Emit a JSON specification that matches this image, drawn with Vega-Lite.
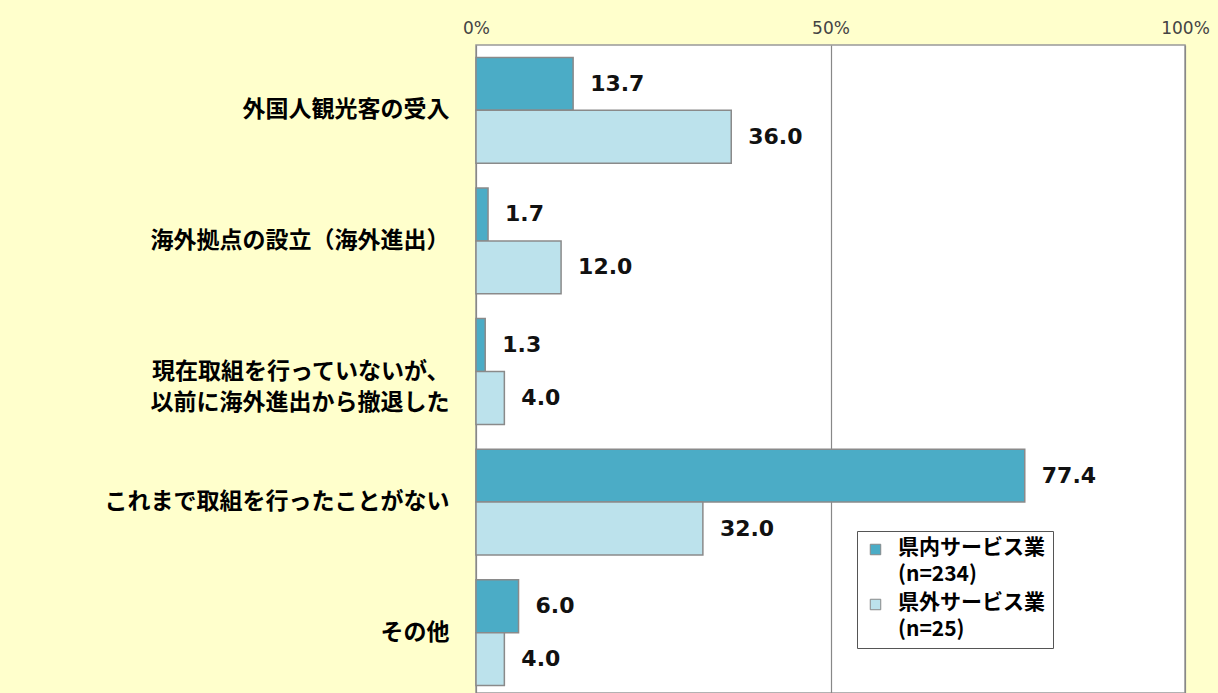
{
  "$schema": "https://vega.github.io/schema/vega-lite/v6.json",
  "autosize": {"type": "none"},
  "padding": {"left": 476, "top": 45, "right": 33, "bottom": 0},
  "width": 709,
  "height": 648,
  "background": "#FFFFCC",
  "view": {"fill": "white", "stroke": "#999999", "strokeWidth": 1.5},
  "data": {
    "values": [
      {"category": "外国人観光客の受入", "series": "県内サービス業", "value": 13.7},
      {"category": "外国人観光客の受入", "series": "県外サービス業", "value": 36.0},
      {"category": "海外拠点の設立（海外進出）", "series": "県内サービス業", "value": 1.7},
      {"category": "海外拠点の設立（海外進出）", "series": "県外サービス業", "value": 12.0},
      {"category": "現在取組を行っていないが、|以前に海外進出から撤退した", "series": "県内サービス業", "value": 1.3},
      {"category": "現在取組を行っていないが、|以前に海外進出から撤退した", "series": "県外サービス業", "value": 4.0},
      {"category": "これまで取組を行ったことがない", "series": "県内サービス業", "value": 77.4},
      {"category": "これまで取組を行ったことがない", "series": "県外サービス業", "value": 32.0},
      {"category": "その他", "series": "県内サービス業", "value": 6.0},
      {"category": "その他", "series": "県外サービス業", "value": 4.0}
    ]
  },
  "encoding": {
    "y": {
      "field": "category", "type": "nominal", "sort": null,
      "scale": {"range": [0, 653], "paddingInner": 0.19, "paddingOuter": 0.095},
      "axis": {
        "title": null, "domain": false, "ticks": false,
        "labelExpr": "split(datum.label, '|')",
        "labelFont": "Noto Sans CJK JP", "labelFontWeight": "bold", "labelFontSize": 23,
        "labelColor": "#000000", "labelPadding": 27, "labelLimit": 600, "labelLineHeight": 31
      }
    },
    "yOffset": {
      "field": "series", "type": "nominal",
      "sort": ["県内サービス業", "県外サービス業"],
      "scale": {"paddingInner": 0, "paddingOuter": 0}
    },
    "x": {
      "field": "value", "type": "quantitative",
      "scale": {"domain": [0, 100], "nice": false},
      "axis": {
        "orient": "top", "title": null, "values": [0, 50, 100],
        "labelExpr": "datum.value + '%'", "labelFlush": false, "labelOverlap": false,
        "labelFont": "DejaVu Sans", "labelFontSize": 17, "labelColor": "#444444",
        "labelPadding": 8, "ticks": false, "domain": false,
        "grid": true, "gridColor": "#888888", "gridWidth": 1.2
      }
    }
  },
  "layer": [
    {
      "mark": {"type": "bar", "stroke": "#8a8a8a", "strokeWidth": 1.5},
      "encoding": {
        "color": {
          "field": "series", "type": "nominal",
          "scale": {"domain": ["県内サービス業", "県外サービス業"], "range": ["#4BACC6", "#BCE2EC"]},
          "legend": {
            "orient": "none", "legendX": 381, "legendY": 486, "title": null,
            "fillColor": "white", "strokeColor": "#555555", "padding": 8,
            "labelFont": "Noto Sans CJK JP", "labelFontWeight": "bold", "labelFontSize": 21,
            "labelColor": "#000000", "labelLimit": 400, "rowPadding": 6, "labelOffset": 12,
            "labelBaseline": "top",
            "symbolType": "square", "symbolSize": 110, "symbolStrokeColor": "#888888", "symbolStrokeWidth": 1,
            "labelExpr": "datum.label == '県内サービス業' ? ['県内サービス業', '(n=234)'] : ['県外サービス業', '(n=25)']",
            "encode": {"labels": {"enter": {"lineHeight": {"value": 27}}, "update": {"dy": {"value": -13}, "lineHeight": {"value": 27}}}}
          }
        }
      }
    },
    {
      "mark": {"type": "text", "align": "left", "baseline": "middle", "dx": 17, "font": "DejaVu Sans", "fontWeight": "bold", "fontSize": 22, "color": "#111111"},
      "encoding": {
        "text": {"field": "value", "type": "quantitative", "format": ".1f"}
      }
    }
  ]
}
